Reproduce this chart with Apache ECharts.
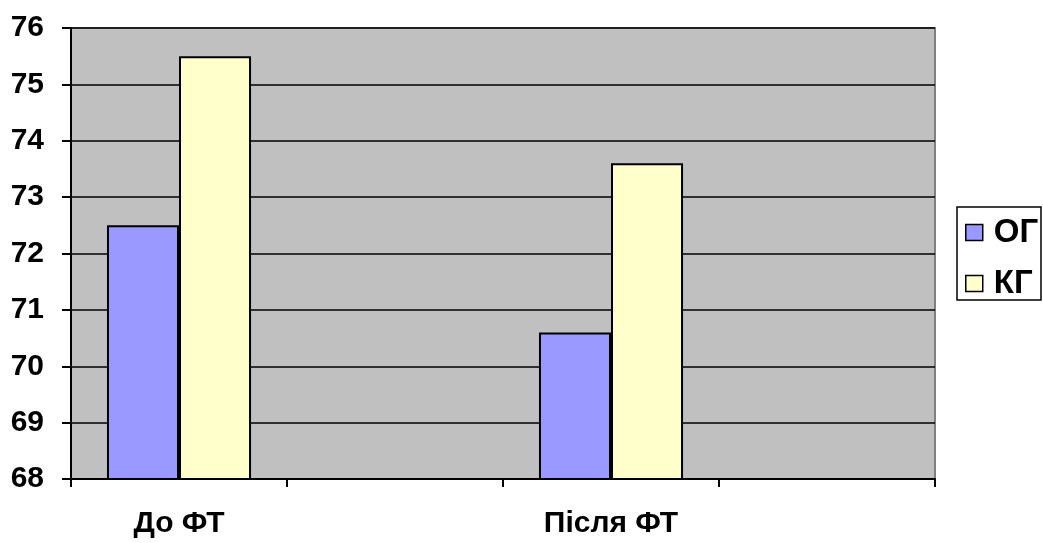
<!DOCTYPE html>
<html>
<head>
<meta charset="utf-8">
<script src="https://cdn.jsdelivr.net/npm/echarts@6/dist/echarts.min.js"></script>
<style>html,body{margin:0;padding:0;background:#fff}#c{width:1043px;height:543px}</style>
</head>
<body>
<div id="c"></div>
<script>
var categories = ['До ФТ', '', 'Після ФТ', ''];
var seriesNames = ['ОГ', 'КГ'];
var valuesOG = [72.5, null, 70.6, null];
var valuesKG = [75.5, null, 73.6, null];
var yMin = 68, yMax = 76, yStep = 1;

var font = 'Liberation Sans, Arial, sans-serif';
var chart = echarts.init(document.getElementById('c'));
chart.setOption({
  animation: false,
  backgroundColor: '#ffffff',
  grid: {
    left: 71, right: 108, top: 28, bottom: 64,
    show: true, backgroundColor: '#c0c0c0', borderColor: '#808080', borderWidth: 2
  },
  graphic: [{
    type: 'rect', z: 100,
    shape: { x: 957, y: 207, width: 84, height: 93 },
    style: { fill: 'none', stroke: '#000', lineWidth: 1.5 }
  }],
  legend: {
    orient: 'vertical',
    left: 957, top: 208,
    padding: [8, 0, 0, 8],
    itemWidth: 17, itemHeight: 16, itemGap: 18,
    borderWidth: 0,
    icon: 'rect',
    itemStyle: { borderColor: '#000', borderWidth: 1.5 },
    textStyle: { fontFamily: font, fontSize: 33, fontWeight: 'bold', color: '#000', lineHeight: 28, padding: [0, 0, 0, 6], overflow: 'none' },
    data: seriesNames
  },
  xAxis: {
    type: 'category',
    data: categories,
    axisLine: { lineStyle: { color: '#000', width: 2 } },
    axisTick: { show: true, length: 8, lineStyle: { color: '#000', width: 2 } },
    axisLabel: { interval: 0, margin: 30, fontFamily: font, fontSize: 30, fontWeight: 'bold', color: '#000' },
    splitLine: { show: false }
  },
  yAxis: {
    type: 'value',
    min: yMin, max: yMax, interval: yStep,
    axisLine: { show: true, lineStyle: { color: '#000', width: 2 } },
    axisTick: { show: true, length: 9, lineStyle: { color: '#000', width: 2 } },
    axisLabel: { margin: 27, fontFamily: font, fontSize: 30, fontWeight: 'bold', color: '#000' },
    splitLine: { show: true, lineStyle: { color: '#000', width: 1.5 } }
  },
  series: [
    { name: seriesNames[0], type: 'bar', data: valuesOG, barGap: '0%', barCategoryGap: '33.3%',
      itemStyle: { color: '#9999ff', borderColor: '#000', borderWidth: 2 } },
    { name: seriesNames[1], type: 'bar', data: valuesKG, barGap: '0%', barCategoryGap: '33.3%',
      itemStyle: { color: '#ffffcc', borderColor: '#000', borderWidth: 2 } }
  ]
});
</script>
</body>
</html>
